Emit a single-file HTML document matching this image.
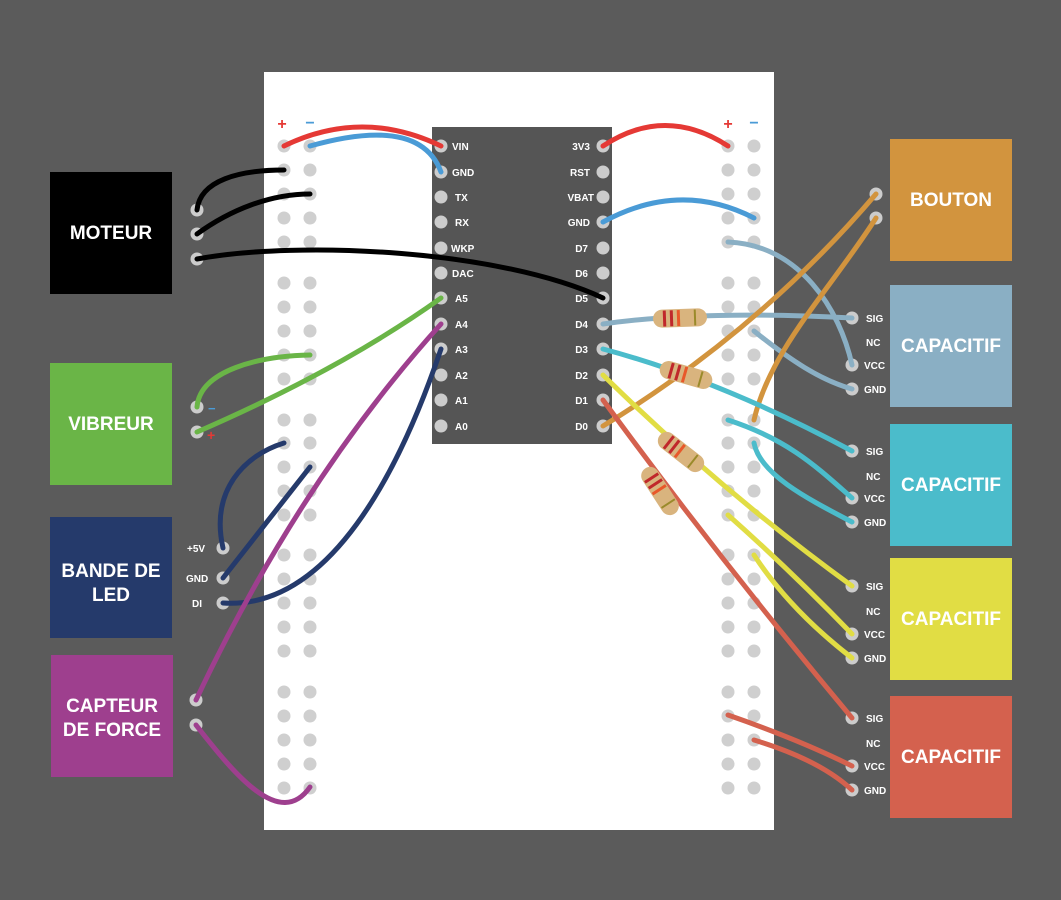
<!DOCTYPE html>
<html><head><meta charset="utf-8"><style>
html,body{margin:0;padding:0;background:#5b5b5b;}
svg{display:block;font-family:"Liberation Sans",sans-serif;}
.ml{fill:#fff;font-weight:bold;font-size:19px;text-anchor:middle;}
.pl{fill:#fff;font-weight:bold;font-size:10px;}
.w{fill:none;stroke-width:5;stroke-linecap:round;}
</style></head><body>
<svg width="1061" height="900" viewBox="0 0 1061 900" xmlns="http://www.w3.org/2000/svg">
<rect width="1061" height="900" fill="#5b5b5b"/>
<rect x="264" y="72" width="510" height="758" fill="#fff"/>
<text x="282" y="129" fill="#e53935" font-size="16" font-weight="bold" text-anchor="middle">+</text>
<text x="310" y="128" fill="#4a9bd6" font-size="16" font-weight="bold" text-anchor="middle">−</text>
<text x="728" y="129" fill="#e53935" font-size="16" font-weight="bold" text-anchor="middle">+</text>
<text x="754" y="128" fill="#4a9bd6" font-size="16" font-weight="bold" text-anchor="middle">−</text>
<g id="holes" fill="#cfcfcf">
<!-- generated below -->
</g>
<rect x="432" y="127" width="180" height="317" fill="#555"/>
<g fill="#ccc">
<circle cx="441" cy="146" r="6.5"/><circle cx="441" cy="172" r="6.5"/><circle cx="441" cy="197" r="6.5"/><circle cx="441" cy="222" r="6.5"/><circle cx="441" cy="248" r="6.5"/><circle cx="441" cy="273" r="6.5"/><circle cx="441" cy="298" r="6.5"/><circle cx="441" cy="324" r="6.5"/><circle cx="441" cy="349" r="6.5"/><circle cx="441" cy="375" r="6.5"/><circle cx="441" cy="400" r="6.5"/><circle cx="441" cy="426" r="6.5"/>
<circle cx="603" cy="146" r="6.5"/><circle cx="603" cy="172" r="6.5"/><circle cx="603" cy="197" r="6.5"/><circle cx="603" cy="222" r="6.5"/><circle cx="603" cy="248" r="6.5"/><circle cx="603" cy="273" r="6.5"/><circle cx="603" cy="298" r="6.5"/><circle cx="603" cy="324" r="6.5"/><circle cx="603" cy="349" r="6.5"/><circle cx="603" cy="375" r="6.5"/><circle cx="603" cy="400" r="6.5"/><circle cx="603" cy="426" r="6.5"/>
</g>
<g class="pl">
<text x="452" y="150">VIN</text><text x="452" y="176">GND</text><text x="455" y="201">TX</text><text x="455" y="226">RX</text><text x="451" y="252">WKP</text><text x="452" y="277">DAC</text><text x="455" y="302">A5</text><text x="455" y="328">A4</text><text x="455" y="353">A3</text><text x="455" y="379">A2</text><text x="455" y="404">A1</text><text x="455" y="430">A0</text>
</g>
<g class="pl" text-anchor="end">
<text x="590" y="150">3V3</text><text x="590" y="176">RST</text><text x="594" y="201">VBAT</text><text x="590" y="226">GND</text><text x="588" y="252">D7</text><text x="588" y="277">D6</text><text x="588" y="302">D5</text><text x="588" y="328">D4</text><text x="588" y="353">D3</text><text x="588" y="379">D2</text><text x="588" y="404">D1</text><text x="588" y="430">D0</text>
</g>
<!-- modules -->
<rect x="50" y="172" width="122" height="122" fill="#000"/><text class="ml" x="111" y="239">MOTEUR</text>
<rect x="50" y="363" width="122" height="122" fill="#6ab547"/><text class="ml" x="111" y="430">VIBREUR</text>
<rect x="50" y="517" width="122" height="121" fill="#253a6b"/><text class="ml" x="111" y="577">BANDE DE</text><text class="ml" x="111" y="601">LED</text>
<rect x="51" y="655" width="122" height="122" fill="#9e3f8e"/><text class="ml" x="112" y="712">CAPTEUR</text><text class="ml" x="112" y="736">DE FORCE</text>
<rect x="890" y="139" width="122" height="122" fill="#d2943e"/><text class="ml" x="951" y="206">BOUTON</text>
<rect x="890" y="285" width="122" height="122" fill="#8aafc4"/><text class="ml" x="951" y="352">CAPACITIF</text>
<rect x="890" y="424" width="122" height="122" fill="#4bbccb"/><text class="ml" x="951" y="491">CAPACITIF</text>
<rect x="890" y="558" width="122" height="122" fill="#e1dd44"/><text class="ml" x="951" y="625">CAPACITIF</text>
<rect x="890" y="696" width="122" height="122" fill="#d4614e"/><text class="ml" x="951" y="763">CAPACITIF</text>
<g class="pl" font-size="9">
<text x="187" y="552">+5V</text><text x="186" y="582">GND</text><text x="192" y="607">DI</text>
<text x="866" y="322">SIG</text><text x="866" y="346">NC</text><text x="864" y="369">VCC</text><text x="864" y="393">GND</text>
<text x="866" y="455">SIG</text><text x="866" y="480">NC</text><text x="864" y="502">VCC</text><text x="864" y="526">GND</text>
<text x="866" y="590">SIG</text><text x="866" y="615">NC</text><text x="864" y="638">VCC</text><text x="864" y="662">GND</text>
<text x="866" y="722">SIG</text><text x="866" y="747">NC</text><text x="864" y="770">VCC</text><text x="864" y="794">GND</text>
</g>
<text x="208" y="413" fill="#4a9bd6" font-size="13" font-weight="bold">−</text>
<text x="207" y="440" fill="#e53935" font-size="14" font-weight="bold">+</text>
<g fill="#ccc">
<circle cx="197" cy="210" r="6.5"/><circle cx="197" cy="234" r="6.5"/><circle cx="197" cy="259" r="6.5"/>
<circle cx="197" cy="407" r="6.5"/><circle cx="197" cy="432" r="6.5"/>
<circle cx="223" cy="548" r="6.5"/><circle cx="223" cy="578" r="6.5"/><circle cx="223" cy="603" r="6.5"/>
<circle cx="196" cy="700" r="6.5"/><circle cx="196" cy="725" r="6.5"/>
<circle cx="876" cy="194" r="6.5"/><circle cx="876" cy="218" r="6.5"/>
<circle cx="852" cy="318" r="6.5"/><circle cx="852" cy="365" r="6.5"/><circle cx="852" cy="389" r="6.5"/>
<circle cx="852" cy="451" r="6.5"/><circle cx="852" cy="498" r="6.5"/><circle cx="852" cy="522" r="6.5"/>
<circle cx="852" cy="586" r="6.5"/><circle cx="852" cy="634" r="6.5"/><circle cx="852" cy="658" r="6.5"/>
<circle cx="852" cy="718" r="6.5"/><circle cx="852" cy="766" r="6.5"/><circle cx="852" cy="790" r="6.5"/>
</g>
<!-- wires -->
<path class="w" stroke="#e53935" d="M284,146 Q362,108 441,146"/>
<path class="w" stroke="#4a9bd6" d="M310,146 Q420,115 441,172"/>
<path class="w" stroke="#e53935" d="M603,146 Q665,105 728,146"/>
<path class="w" stroke="#4a9bd6" d="M603,222 Q680,180 754,218"/>
<path class="w" stroke="#000" d="M197,210 C200,180 240,170 284,170"/>
<path class="w" stroke="#000" d="M197,234 C230,210 270,194 310,194"/>
<path class="w" stroke="#000" d="M197,259 C300,240 500,250 603,298"/>
<path class="w" stroke="#6ab547" d="M197,407 C200,370 260,356 310,355"/>
<path class="w" stroke="#6ab547" d="M197,432 Q340,370 441,298"/>
<path class="w" stroke="#253a6b" d="M223,548 C210,490 245,455 284,443"/>
<path class="w" stroke="#253a6b" d="M223,578 L310,467"/>
<path class="w" stroke="#253a6b" d="M223,603 C330,610 400,470 441,349"/>
<path class="w" stroke="#9e3f8e" d="M196,700 Q300,480 441,324"/>
<path class="w" stroke="#9e3f8e" d="M196,725 C235,775 280,830 310,787"/>
<path class="w" stroke="#8aafc4" d="M603,324 Q700,310 852,318"/>
<path class="w" stroke="#8aafc4" d="M728,242 C800,245 840,310 852,365"/>
<path class="w" stroke="#8aafc4" d="M754,331 C790,360 820,380 852,389"/>
<path class="w" stroke="#d2943e" d="M603,426 Q760,330 876,194"/>
<path class="w" stroke="#d2943e" d="M754,420 C770,350 830,290 876,218"/>
<path class="w" stroke="#4bbccb" d="M603,349 Q720,380 852,451"/>
<path class="w" stroke="#4bbccb" d="M728,420 C790,440 820,470 852,498"/>
<path class="w" stroke="#4bbccb" d="M754,443 C760,475 810,500 852,522"/>
<path class="w" stroke="#e1dd44" d="M603,375 Q720,490 852,586"/>
<path class="w" stroke="#e1dd44" d="M728,515 Q790,570 852,634"/>
<path class="w" stroke="#e1dd44" d="M754,555 Q790,610 852,658"/>
<path class="w" stroke="#d4614e" d="M603,400 Q720,560 852,718"/>
<path class="w" stroke="#d4614e" d="M728,715 Q800,740 852,766"/>
<path class="w" stroke="#d4614e" d="M754,740 Q820,760 852,790"/>
<!-- resistors -->
<g id="res">
<g transform="translate(680,318) rotate(-2)"><rect x="-27" y="-9" width="54" height="18" rx="9" fill="#d9b47e"/><rect x="-17" y="-8" width="3" height="16" fill="#c0282b"/><rect x="-10" y="-8" width="3" height="16" fill="#c0282b"/><rect x="-3" y="-8" width="3" height="16" fill="#e8582a"/><rect x="14" y="-8" width="2" height="16" fill="#9a8a2a"/></g>
<g transform="translate(686,375) rotate(16)"><rect x="-27" y="-9" width="54" height="18" rx="9" fill="#d9b47e"/><rect x="-17" y="-8" width="3" height="16" fill="#c0282b"/><rect x="-10" y="-8" width="3" height="16" fill="#c0282b"/><rect x="-3" y="-8" width="3" height="16" fill="#e8582a"/><rect x="14" y="-8" width="2" height="16" fill="#9a8a2a"/></g>
<g transform="translate(681,452) rotate(38)"><rect x="-27" y="-9" width="54" height="18" rx="9" fill="#d9b47e"/><rect x="-17" y="-8" width="3" height="16" fill="#c0282b"/><rect x="-10" y="-8" width="3" height="16" fill="#c0282b"/><rect x="-3" y="-8" width="3" height="16" fill="#e8582a"/><rect x="14" y="-8" width="2" height="16" fill="#9a8a2a"/></g>
<g transform="translate(660,491) rotate(57)"><rect x="-27" y="-9" width="54" height="18" rx="9" fill="#d9b47e"/><rect x="-17" y="-8" width="3" height="16" fill="#c0282b"/><rect x="-10" y="-8" width="3" height="16" fill="#c0282b"/><rect x="-3" y="-8" width="3" height="16" fill="#e8582a"/><rect x="14" y="-8" width="2" height="16" fill="#9a8a2a"/></g>
</g>
</svg>
<script>
(function(){
var g=document.getElementById('holes');var ns='http://www.w3.org/2000/svg';
var rows=[146,170,194,218,242,283,307,331,355,379,420,443,467,491,515,555,579,603,627,651,692,716,740,764,788];
var xs=[284,310,728,754];
rows.forEach(function(y){xs.forEach(function(x){var c=document.createElementNS(ns,'circle');c.setAttribute('cx',x);c.setAttribute('cy',y);c.setAttribute('r',6.5);g.appendChild(c);});});
})();
</script>
</body></html>
